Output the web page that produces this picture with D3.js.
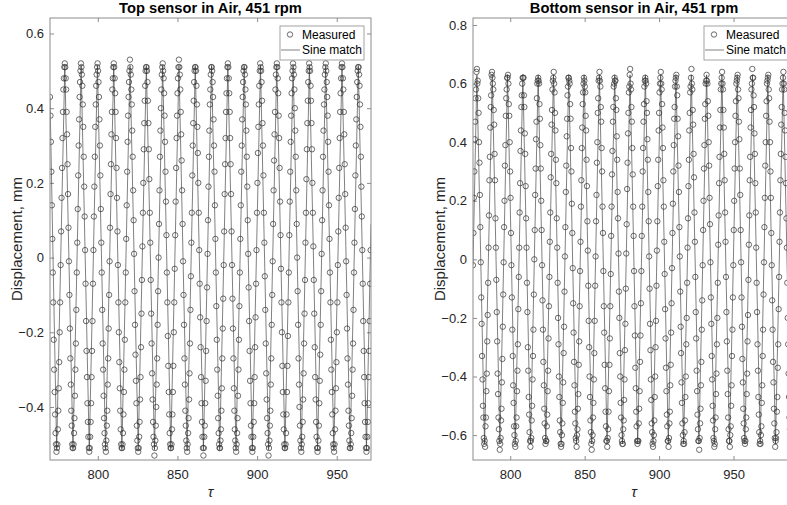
<!DOCTYPE html>
<html>
<head>
<meta charset="utf-8">
<script src="https://d3js.org/d3.v7.min.js"></script>
<style>
  body { margin: 0; background: #fff; }
  text { font-family: "Liberation Sans", Arial, Helvetica, sans-serif; }
</style>
</head>
<body>
<script>
// samples are taken every 0.29 tau, starting at the left edge of each plot
const sampleStep = 0.29;
const topTau0 = 770;
const botTau0 = 775;

// top sensor, measured displacement (mm), one row per ~cycle
const topMeasured = [
  .43,.38,.31,.23,.14,.05,-.04,-.12,-.22,-.30,-.36,-.42,-.47,-.50,-.52,-.51,-.50,-.46,-.41,-.35,-.28,-.20,-.12,-.02,.07,.16,.24,.32,.39,.45,.48,.51,.52,.51,.48,
  .45,.39,.33,.25,.17,.08,-.01,-.10,-.19,-.27,-.34,-.41,-.45,-.50,-.51,-.51,-.50,-.47,-.43,-.37,-.30,-.23,-.14,-.04,.04,.13,.22,.30,.37,.43,.47,.50,.52,.51,.49,
  .46,.41,.35,.27,.19,.11,.02,-.07,-.17,-.25,-.32,-.39,-.44,-.48,-.51,-.52,-.51,-.48,-.44,-.39,-.32,-.25,-.17,-.07,.02,.11,.19,.27,.35,.41,.46,.49,.51,.52,.50,
  .47,.43,.37,.30,.22,.13,.04,-.04,-.14,-.23,-.30,-.37,-.43,-.47,-.50,-.51,-.52,-.49,-.45,-.41,-.34,-.27,-.19,-.10,-.01,.08,.17,.25,.33,.39,.45,.48,.51,.52,.51,
  .48,.44,.39,.32,.24,.16,.07,-.02,-.12,-.20,-.28,-.35,-.41,-.46,-.50,-.51,-.51,-.50,-.47,-.42,-.36,-.30,-.22,-.12,-.04,.05,.14,.23,.31,.38,.43,.47,.50,.53,.51,
  .49,.45,.41,.34,.27,.18,.10,.01,-.09,-.18,-.26,-.33,-.39,-.45,-.49,-.51,-.52,-.51,-.48,-.44,-.38,-.32,-.24,-.15,-.06,.03,.12,.20,.29,.36,.42,.46,.50,.51,.51,
  .50,.47,.42,.36,.29,.21,.12,.04,-.06,-.15,-.23,-.31,-.38,-.44,-.48,-.50,-.53,-.51,-.49,-.45,-.40,-.34,-.27,-.18,-.09,.00,.09,.18,.27,.34,.40,.45,.49,.51,.52,
  .50,.48,.44,.38,.31,.23,.15,.06,-.04,-.12,-.21,-.29,-.36,-.42,-.47,-.50,-.51,-.51,-.50,-.46,-.42,-.36,-.29,-.20,-.12,-.03,.06,.15,.24,.32,.38,.44,.48,.51,.53,
  .51,.49,.45,.39,.33,.26,.18,.09,-.01,-.10,-.18,-.27,-.34,-.41,-.45,-.49,-.51,-.52,-.50,-.47,-.43,-.38,-.31,-.23,-.14,-.05,.04,.12,.22,.30,.36,.42,.47,.50,.51,
  .51,.50,.46,.41,.35,.28,.20,.12,.02,-.07,-.16,-.24,-.32,-.39,-.44,-.48,-.51,-.53,-.51,-.48,-.45,-.39,-.33,-.25,-.17,-.08,.01,.10,.19,.27,.34,.41,.45,.49,.51,
  .51,.50,.47,.43,.37,.30,.23,.14,.05,-.04,-.13,-.22,-.30,-.37,-.43,-.47,-.50,-.51,-.51,-.49,-.46,-.41,-.35,-.27,-.19,-.11,-.02,.07,.17,.25,.32,.39,.44,.48,.51,
  .52,.51,.48,.44,.39,.32,.25,.17,.07,-.02,-.11,-.19,-.27,-.35,-.41,-.46,-.49,-.51,-.52,-.50,-.47,-.43,-.37,-.30,-.22,-.13,-.04,.05,.14,.23,.30,.37,.43,.47,.50,
  .51,.51,.49,.45,.41,.34,.27,.19,.10,.01,-.08,-.17,-.25,-.33,-.39,-.45,-.48,-.51,-.52,-.51,-.48,-.44,-.39,-.32,-.24,-.16,-.07,.02,.12,.20,.28,.35,.41,.46,.50,
  .52,.51,.50,.47,.42,.36,.30,.22,.12,.04,-.05,-.14,-.23,-.31,-.38,-.43,-.47,-.50,-.53,-.51,-.49,-.45,-.41,-.34,-.27,-.18,-.10,-.01,.09,.18,.26,.33,.39,.45,.49,
  .51,.52,.51,.48,.44,.38,.32,.24,.15,.06,-.03,-.12,-.20,-.29,-.36,-.42,-.46,-.50,-.51,-.51,-.50,-.47,-.42,-.36,-.29,-.21,-.12,-.04,.06,.15,.23,.31,.38,.44,.48,
  .50,.52,.51,.49,.45,.40,.34,.27,.18,.09,.00,-.09,-.18,-.27,-.34,-.40,-.45,-.49,-.51,-.52,-.50,-.48,-.44,-.38,-.31,-.23,-.15,-.06,.04,.12,.21,.29,.36,.42,.47,
  .50,.52,.51,.50,.46,.42,.36,.29,.20,.12,.03,-.06,-.15,-.24,-.32,-.38,-.44,-.48,-.51,-.52,-.51,-.49,-.45,-.39,-.33,-.26,-.18,-.09,.01,.10,.18,.27,.34,.41,.45,
  .49,.51,.52,.50,.47,.43,.38,.31,.23,.14,.05,-.04,-.12,-.22,-.30,-.36,-.42,-.47,-.50,-.51,-.52,-.50,-.46,-.41,-.35,-.28,-.20,-.12,-.02,.07,.16,.24,.32,.39,.44,
  .48,.51,.52,.51,.48,.45,.39,.33,.25,.17,.08,-.01,-.10,-.19,-.27,-.34,-.41,-.45,-.49,-.51,-.51,-.50,-.47,-.43,-.37,-.30,-.23,-.14,-.04,.04,.13,.22,.30,.37,.43,
  .47,.50,.51,.51,.49,.46,.41,.35,.27,.19,.11,.02,-.07,-.17,-.25,-.32,-.39,-.44,-.48,-.51,-.52,-.51,-.48,-.44,-.39,-.32,-.25,-.17,-.07,.02
];

// bottom sensor, measured displacement (mm)
const botMeasured = [
  -.02,.09,.21,.30,.41,.47,.55,.58,.64,.65,.60,.61,.55,.50,.40,.33,.22,.11,-.01,-.13,-.22,-.33,-.41,-.50,-.54,-.61,-.63,-.62,-.64,-.57,-.54,-.45,-.39,-.28,-.19,
  -.08,.04,.15,.27,.35,.45,.52,.56,.63,.64,.62,.60,.58,.51,.46,.36,.27,.14,.04,-.07,-.18,-.28,-.39,-.46,-.54,-.58,-.62,-.65,-.63,-.61,-.55,-.51,-.42,-.34,-.23,
  -.12,-.01,.11,.20,.32,.39,.49,.55,.58,.62,.62,.63,.60,.53,.49,.40,.30,.21,.09,-.02,-.13,-.24,-.33,-.43,-.49,-.57,-.60,-.63,-.64,-.62,-.57,-.54,-.45,-.38,-.29,
  -.17,-.06,.04,.16,.26,.37,.44,.52,.56,.60,.62,.62,.62,.56,.52,.43,.36,.25,.14,.04,-.08,-.18,-.30,-.38,-.47,-.53,-.59,-.62,-.64,-.62,-.61,-.55,-.50,-.41,-.33,
  -.24,-.12,.00,.10,.22,.31,.41,.47,.55,.60,.61,.62,.61,.60,.53,.48,.39,.31,.20,.10,-.02,-.14,-.24,-.35,-.43,-.51,-.56,-.61,-.63,-.62,-.62,-.57,-.53,-.45,-.38,
  -.27,-.16,-.06,.06,.16,.28,.36,.46,.51,.58,.61,.62,.64,.60,.57,.50,.44,.34,.26,.14,.04,-.08,-.20,-.29,-.40,-.47,-.55,-.59,-.63,-.64,-.63,-.60,-.56,-.49,-.42,
  -.32,-.23,-.11,.01,.11,.23,.32,.42,.48,.56,.59,.62,.62,.61,.60,.53,.48,.38,.30,.19,.09,-.03,-.15,-.25,-.35,-.43,-.52,-.56,-.61,-.62,-.64,-.60,-.58,-.51,-.46,
  -.36,-.28,-.16,-.04,.06,.18,.27,.38,.45,.53,.57,.60,.62,.61,.59,.57,.49,.44,.34,.25,.13,.03,-.09,-.21,-.30,-.40,-.47,-.55,-.59,-.63,-.65,-.62,-.60,-.54,-.49,
  -.41,-.32,-.21,-.09,.01,.13,.22,.33,.40,.50,.55,.61,.62,.64,.61,.59,.52,.47,.38,.30,.18,.09,-.04,-.16,-.25,-.36,-.44,-.52,-.57,-.62,-.62,-.64,-.61,-.58,-.52,
  -.45,-.36,-.27,-.16,-.05,.08,.18,.29,.37,.47,.52,.59,.60,.62,.61,.61,.55,.51,.42,.34,.23,.14,.02,-.11,-.20,-.32,-.40,-.49,-.54,-.60,-.62,-.63,-.63,-.58,-.55,
  -.48,-.41,-.31,-.22,-.10,.02,.12,.24,.33,.43,.50,.57,.59,.63,.65,.60,.58,.52,.47,.38,.29,.18,.08,-.04,-.16,-.26,-.37,-.44,-.52,-.57,-.62,-.63,-.62,-.62,-.56,
  -.51,-.45,-.35,-.26,-.15,-.04,.08,.18,.30,.38,.47,.53,.59,.61,.62,.61,.60,.54,.50,.41,.34,.23,.13,.01,-.10,-.22,-.31,-.41,-.48,-.56,-.59,-.63,-.64,-.62,-.60,
  -.55,-.47,-.40,-.30,-.21,-.09,.03,.13,.25,.34,.44,.50,.57,.60,.62,.64,.60,.58,.53,.45,.38,.27,.18,.06,-.05,-.17,-.27,-.37,-.45,-.53,-.57,-.62,-.62,-.64,-.61,
  -.56,-.52,-.43,-.36,-.25,-.15,-.03,.09,.19,.30,.39,.48,.52,.59,.61,.62,.63,.59,.56,.48,.42,.32,.23,.11,.01,-.11,-.23,-.32,-.42,-.49,-.56,-.60,-.63,-.62,-.63,
  -.59,-.55,-.47,-.40,-.29,-.20,-.08,.04,.14,.25,.34,.44,.50,.57,.59,.62,.65,.60,.58,.51,.46,.36,.28,.16,.06,-.06,-.18,-.27,-.38,-.45,-.53,-.58,-.62,-.62,-.65,
  -.61,-.56,-.51,-.43,-.35,-.24,-.14,-.02,.10,.20,.31,.39,.48,.53,.60,.61,.63,.61,.60,.54,.49,.40,.32,.21,.12,-.01,-.13,-.22,-.33,-.41,-.50,-.55,-.61,-.62,-.64,
  -.63,-.58,-.54,-.46,-.39,-.29,-.20,-.08,.05,.15,.26,.35,.45,.51,.58,.60,.62,.64,.60,.58,.51,.45,.36,.27,.16,.06,-.06,-.18,-.28,-.38,-.46,-.54,-.58,-.62,-.62,
  -.64,-.60,-.57,-.50,-.43,-.33,-.24,-.13,-.02,.10,.20,.31,.40,.49,.54,.60,.61,.62,.63,.58,.55,.47,.41,.31,.22,.10,-.01,-.13,-.23,-.34,-.42,-.51,-.56,-.61,-.62,
  -.63,-.62,-.58,-.54,-.46,-.39,-.28,-.19,-.07,.05,.15,.27,.35,.45,.51,.58,.60,.65,.62,.62,.56,.52,.43,.36,.26,.16,.04,-.08,-.18,-.29,-.38,-.47,-.53,-.59,-.63,
  -.62,-.63,-.60,-.57,-.49,-.43,-.33,-.24,-.12,-.01,.11,.21,.32,.40,.49,.54,.60,.61,.62,.63,.58,.55,.47,.40,.30,.21,.09,-.02,-.14,-.24,-.35,-.42,-.51,-.56,-.61,
  -.64,-.62,-.61,-.59,-.52,-.47,-.37,-.29,-.17,-.06,.06,.16,.27,.36,.46,.52,.58,.60,.62,.64,.60,.58,.50,.44,.35,.26,.14,.04,-.08,-.20,-.29,-.39,-.47,-.54,-.58,
  -.62,-.64,-.61
];

// sine match, turning points (tau, mm)
const topLineTau = [770, 774.18, 779.30, 784.42, 789.54, 794.65, 799.77, 804.89, 810.01, 815.12, 820.24, 825.36, 830.48, 835.59, 840.71, 845.83, 850.95, 856.06, 861.18, 866.30, 871.42, 876.53, 881.65, 886.77, 891.89, 897.00, 902.12, 907.24, 912.36, 917.47, 922.59, 927.71, 932.83, 937.94, 943.06, 948.18, 953.30, 958.41, 963.53, 968.65, 971.5];
const topLineVal = [0.43, -0.515, 0.515, -0.515, 0.515, -0.515, 0.515, -0.515, 0.515, -0.515, 0.515, -0.515, 0.515, -0.515, 0.515, -0.515, 0.515, -0.515, 0.515, -0.515, 0.515, -0.515, 0.515, -0.515, 0.515, -0.515, 0.515, -0.515, 0.515, -0.515, 0.515, -0.515, 0.515, -0.515, 0.515, -0.515, 0.515, -0.515, 0.515, -0.515, 0.09];
const botLineTau = [775, 777.63, 782.77, 787.91, 793.06, 798.20, 803.35, 808.49, 813.63, 818.77, 823.92, 829.06, 834.20, 839.34, 844.49, 849.63, 854.77, 859.91, 865.06, 870.20, 875.35, 880.49, 885.63, 890.77, 895.92, 901.06, 906.20, 911.34, 916.49, 921.63, 926.77, 931.92, 937.06, 942.20, 947.35, 952.49, 957.63, 962.77, 967.92, 973.06, 978.20, 983.34, 988.49, 989];
const botLineVal = [-0.02, 0.63, -0.63, 0.63, -0.63, 0.63, -0.63, 0.63, -0.63, 0.63, -0.63, 0.63, -0.63, 0.63, -0.63, 0.63, -0.63, 0.63, -0.63, 0.63, -0.63, 0.63, -0.63, 0.63, -0.63, 0.63, -0.63, 0.63, -0.63, 0.63, -0.63, 0.63, -0.63, 0.63, -0.63, 0.63, -0.63, 0.63, -0.63, 0.63, -0.63, 0.63, -0.63, -0.60];

const xTicks = [800, 850, 900, 950];
const topYTicks = [-0.4, -0.2, 0, 0.2, 0.4, 0.6];
const botYTicks = [-0.6, -0.4, -0.2, 0, 0.2, 0.4, 0.6, 0.8];

const W = 787, H = 505;
const svg = d3.select("body").append("svg")
    .attr("width", W).attr("height", H)
    .style("display", "block");

function panel(opt) {
    const x = d3.scaleLinear().domain(opt.xDomain).range([opt.left, opt.right]);
    const y = d3.scaleLinear().domain(opt.yDomain).range([opt.bottom, opt.top]);
    const g = svg.append("g");
    const clipId = "clip" + opt.id;
    g.append("clipPath").attr("id", clipId).append("rect")
        .attr("x", opt.left).attr("y", opt.top)
        .attr("width", opt.right - opt.left).attr("height", opt.bottom - opt.top);

    const tk = 4;
    g.append("g").attr("transform", `translate(0,${opt.bottom})`)
        .call(d3.axisBottom(x).tickValues(xTicks).tickSize(-tk).tickPadding(10).tickSizeOuter(0))
        .call(a => a.select(".domain").remove());
    g.append("g").attr("transform", `translate(0,${opt.top})`)
        .call(d3.axisTop(x).tickValues(xTicks).tickSize(-tk).tickFormat("").tickSizeOuter(0))
        .call(a => a.select(".domain").remove());
    g.append("g").attr("transform", `translate(${opt.left},0)`)
        .call(d3.axisLeft(y).tickValues(opt.yTicks).tickSize(-tk).tickPadding(6).tickSizeOuter(0).tickFormat(d3.format("")))
        .call(a => a.select(".domain").remove());
    g.append("g").attr("transform", `translate(${opt.right},0)`)
        .call(d3.axisRight(y).tickValues(opt.yTicks).tickSize(-tk).tickFormat("").tickSizeOuter(0))
        .call(a => a.select(".domain").remove());
    g.selectAll(".tick line").attr("stroke", "#8c8c8c");
    g.selectAll(".tick text").attr("fill", "#262626").style("font-size", "13px");

    const plot = g.append("g").attr("clip-path", `url(#${clipId})`);
    plot.selectAll("circle")
        .data(opt.measured)
        .join("circle")
        .attr("cx", (d, i) => x(opt.tau0 + i * sampleStep))
        .attr("cy", d => y(d))
        .attr("r", 2.7)
        .attr("fill", "none").attr("stroke", "#474747").attr("stroke-width", 0.8);
    plot.append("path")
        .datum(d3.zip(opt.lineTau, opt.lineVal))
        .attr("fill", "none").attr("stroke", "#2b2b2b").attr("stroke-width", 0.6)
        .attr("d", d3.line().x(d => x(d[0])).y(d => y(d[1])));

    g.append("rect")
        .attr("x", opt.left).attr("y", opt.top)
        .attr("width", opt.right - opt.left).attr("height", opt.bottom - opt.top)
        .attr("fill", "none").attr("stroke", "#8c8c8c").attr("stroke-width", 1);

    g.append("text")
        .attr("x", (opt.left + opt.right) / 2).attr("y", opt.top - 5)
        .attr("text-anchor", "middle").attr("font-weight", "bold")
        .style("font-size", "14.7px").attr("fill", "#000")
        .text(opt.title);

    g.append("text")
        .attr("transform", `translate(${opt.left - 28},${(opt.top + opt.bottom) / 2}) rotate(-90)`)
        .attr("text-anchor", "middle").style("font-size", "15px").attr("fill", "#262626")
        .text("Displacement, mm");

    g.append("text")
        .attr("x", (opt.left + opt.right) / 2).attr("y", opt.bottom + 37)
        .attr("text-anchor", "middle").style("font-size", "15px").style("font-style", "italic")
        .attr("font-family", "DejaVu Serif, serif").attr("fill", "#262626")
        .text("τ");

    // legend
    const lw = 84, lh = 34, lx = opt.right - 7 - lw, ly = opt.top + 8;
    const lg = g.append("g");
    lg.append("rect").attr("x", lx).attr("y", ly).attr("width", lw).attr("height", lh)
        .attr("fill", "#fff").attr("stroke", "#8c8c8c").attr("stroke-width", 0.8);
    lg.append("circle").attr("cx", lx + 10).attr("cy", ly + 8.5).attr("r", 2.7)
        .attr("fill", "none").attr("stroke", "#474747").attr("stroke-width", 0.8);
    lg.append("line").attr("x1", lx + 1).attr("x2", lx + 20).attr("y1", ly + 24).attr("y2", ly + 24)
        .attr("stroke", "#2b2b2b").attr("stroke-width", 0.6);
    lg.append("text").attr("x", lx + 22).attr("y", ly + 12.7).style("font-size", "12px").attr("fill", "#000").text("Measured");
    lg.append("text").attr("x", lx + 22).attr("y", ly + 28.3).style("font-size", "12px").attr("fill", "#000").text("Sine match");
}

panel({
    id: "top", title: "Top sensor in Air, 451 rpm",
    left: 50, right: 371, top: 18, bottom: 460,
    xDomain: [770, 971.5], yDomain: [-0.542, 0.6415], yTicks: topYTicks,
    tau0: topTau0, measured: topMeasured,
    lineTau: topLineTau, lineVal: topLineVal
});
panel({
    id: "bot", title: "Bottom sensor in Air, 451 rpm",
    left: 473, right: 795, top: 18, bottom: 460,
    xDomain: [775, 991.3], yDomain: [-0.685, 0.824], yTicks: botYTicks,
    tau0: botTau0, measured: botMeasured,
    lineTau: botLineTau, lineVal: botLineVal
});
</script>
</body>
</html>
